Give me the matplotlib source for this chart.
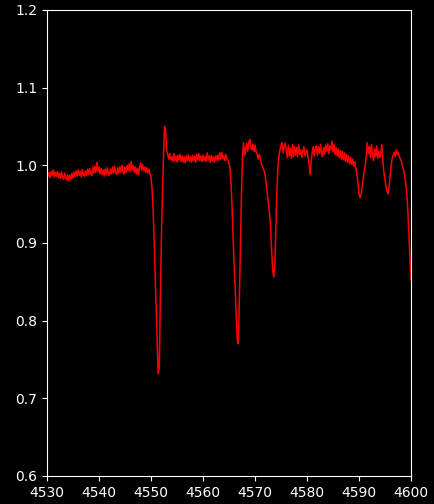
import numpy as np
import matplotlib
matplotlib.use("Agg")
import matplotlib.pyplot as plt

# wavelength grid start/step (0.2 A sampling), flux
wave_start = 4530.0
wave_step = 0.2

flux = [
    # 4530
    0.993, 0.986, 0.991, 0.984, 0.992, 0.987, 0.994, 0.985, 0.991, 0.986,
    0.992, 0.984, 0.990, 0.983, 0.991, 0.985, 0.982, 0.990, 0.984, 0.981,
    0.988, 0.980, 0.987, 0.982, 0.990, 0.983, 0.991, 0.985, 0.993, 0.986,
    0.994, 0.987, 0.992, 0.985, 0.995, 0.988, 0.986, 0.993, 0.987, 0.995,
    0.988, 0.996, 0.989, 0.987, 0.998, 0.990, 0.999, 0.991, 1.004, 0.992,
    # 4540
    0.998, 0.989, 0.996, 0.988, 0.994, 0.986, 0.995, 0.988, 0.997, 0.990,
    0.987, 0.995, 0.989, 0.998, 0.990, 0.999, 0.991, 0.988, 0.997, 0.990,
    0.998, 0.991, 1.000, 0.992, 0.989, 0.998, 0.991, 1.000, 0.993, 1.002,
    0.992, 1.005, 0.994, 1.000, 0.991, 0.998, 0.989, 0.996, 0.988, 0.997,
    1.003, 0.994, 1.001, 0.993, 0.998, 0.991, 0.997, 0.990, 0.995, 0.989,
    # 4550
    0.985, 0.970, 0.945, 0.905, 0.858, 0.815, 0.770, 0.732, 0.740, 0.830,
    0.905, 0.965, 1.010, 1.050, 1.045, 1.020, 1.014, 1.008, 1.015, 1.007,
    1.011, 1.005, 1.015, 1.006, 1.012, 1.004, 1.013, 1.007, 1.014, 1.005,
    1.012, 1.004, 1.011, 1.003, 1.012, 1.006, 1.014, 1.005, 1.011, 1.004,
    1.013, 1.006, 1.012, 1.004, 1.014, 1.007, 1.015, 1.006, 1.012, 1.005,
    # 4560
    1.013, 1.006, 1.011, 1.005, 1.016, 1.007, 1.012, 1.004, 1.013, 1.006,
    1.011, 1.004, 1.012, 1.007, 1.013, 1.006, 1.016, 1.008, 1.017, 1.009,
    1.012, 1.006, 1.014, 1.008, 1.006, 1.003, 0.996, 0.975, 0.945, 0.905,
    0.870, 0.840, 0.805, 0.775, 0.770, 0.830, 0.900, 0.965, 1.010, 1.029,
    1.013, 1.020, 1.028, 1.018, 1.030, 1.033, 1.022, 1.020, 1.027, 1.018,
    # 4570
    1.026, 1.017, 1.015, 1.008, 1.014, 1.010, 1.003, 0.999, 0.996, 0.992,
    0.985, 0.972, 0.962, 0.950, 0.938, 0.920, 0.890, 0.866, 0.856, 0.870,
    0.915, 0.966, 0.997, 1.012, 1.020, 1.025, 1.029, 1.016, 1.024, 1.029,
    1.019, 1.010, 1.026, 1.012, 1.022, 1.009, 1.027, 1.011, 1.024, 1.013,
    1.023, 1.011, 1.026, 1.014, 1.020, 1.010, 1.018, 1.024, 1.012, 1.016,
    # 4580
    1.020, 1.011, 1.003, 0.988, 1.004, 1.017, 1.024, 1.012, 1.021, 1.025,
    1.013, 1.024, 1.015, 1.027, 1.016, 1.011, 1.023, 1.014, 1.026, 1.018,
    1.028, 1.015, 1.025, 1.020, 1.031, 1.017, 1.027, 1.014, 1.023, 1.012,
    1.021, 1.010, 1.019, 1.008, 1.018, 1.007, 1.016, 1.005, 1.014, 1.004,
    1.012, 1.002, 1.010, 1.001, 1.008, 0.999, 1.004, 0.996, 0.988, 0.977,
    # 4590
    0.963, 0.958, 0.962, 0.972, 0.982, 0.992, 1.000, 1.012, 1.029, 1.015,
    1.024, 1.010, 1.027, 1.014, 1.006, 1.021, 1.011, 1.025, 1.009, 1.018,
    1.010, 1.016, 1.027, 1.005, 0.990, 0.982, 0.972, 0.966, 0.963, 0.972,
    0.988, 1.000, 1.010, 1.014, 1.017, 1.011, 1.020, 1.014, 1.016, 1.010,
    1.008, 1.004, 0.998, 0.994, 0.986, 0.976, 0.962, 0.940, 0.912, 0.880,
    # 4600
    0.852,
]

wave = wave_start + wave_step * np.arange(len(flux))

plt.style.use('dark_background')
fig = plt.figure(figsize=(4.34, 5.04), dpi=100)
ax = fig.add_axes([0.1083, 0.0556, 0.8387, 0.9246])

ax.plot(wave, flux, color='red', linewidth=1.1)

ax.set_xlim(4530, 4600)
ax.set_ylim(0.6, 1.2)
ax.set_xticks(np.arange(4530, 4601, 10))
ax.set_yticks([0.6, 0.7, 0.8, 0.9, 1.0, 1.1, 1.2])

fig.savefig('out.png', dpi=100)
